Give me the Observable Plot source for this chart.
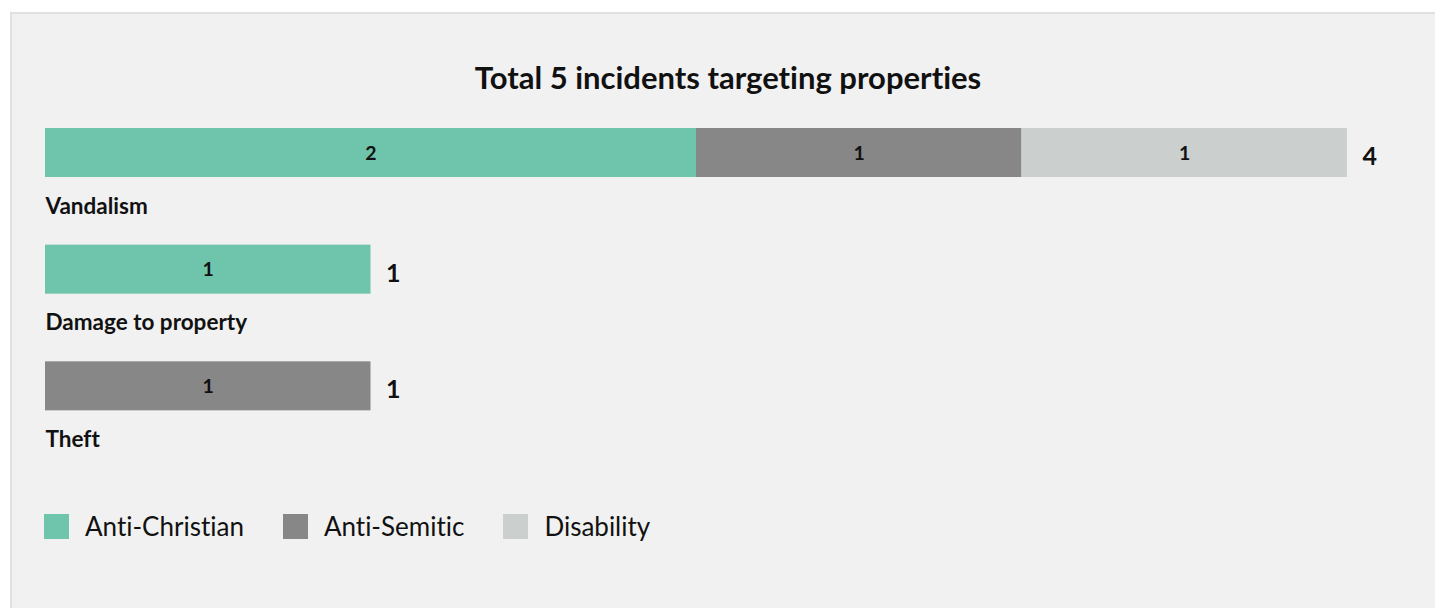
<!DOCTYPE html>
<html>
<head>
<meta charset="utf-8">
<script src="https://cdn.jsdelivr.net/npm/d3@7"></script>
<script src="https://cdn.jsdelivr.net/npm/@observablehq/plot@0.6"></script>
<style>
  html, body { margin: 0; padding: 0; background: #ffffff; width: 1435px; height: 608px; overflow: hidden; font-family: Lato, "Noto Sans", sans-serif; font-variant-ligatures: none; font-feature-settings: "liga" 0, "clig" 0; }
  #panel { position: absolute; left: 10px; top: 12px; width: 1436px; height: 620px; background: #f1f1f1; border: 2px solid #e0e0e0; box-sizing: border-box; }
  #title { position: absolute; left: 10px; width: 1436px; top: 61px; text-align: center; font-size: 31px; line-height: 32px; font-weight: 700; color: #111; }
  #chart { position: absolute; left: 0; top: 110px; }
  #chart svg text { font-variant-ligatures: none; font-feature-settings: "liga" 0, "clig" 0; }
  #legend { position: absolute; left: 44px; top: 510px; display: flex; align-items: center; font-size: 26px; color: #111; }
  .item { display: flex; align-items: center; margin-right: 39px; }
  .sw { width: 25px; height: 25px; margin-right: 16px; }
</style>
</head>
<body>
<div id="panel"></div>
<div id="title"></div>
<div id="chart"></div>
<div id="legend"></div>
<script>
const titleText = "Total 5 incidents targeting properties";
const categories = ["Vandalism", "Damage to property", "Theft"];
const groups = ["Anti-Christian", "Anti-Semitic", "Disability"];
const groupColors = ["#6fc5ac", "#878787", "#cbcfcd"];
const antiChristian = [2, 1, 0];
const antiSemitic = [1, 0, 1];
const disability = [1, 0, 0];

const series = [antiChristian, antiSemitic, disability];
const rows = [];
categories.forEach((c, i) => {
  groups.forEach((g, j) => {
    if (series[j][i] > 0) rows.push({category: c, group: g, value: series[j][i]});
  });
});
const totals = categories.map((c, i) => ({category: c, total: d3.sum(series, s => s[i])}));

document.getElementById("title").textContent = titleText;

const chart = Plot.plot({
  width: 1435,
  height: 370,
  marginLeft: 45,
  marginRight: 88,
  marginTop: 18,
  marginBottom: 2,
  style: {fontFamily: "Lato, 'Noto Sans', sans-serif", background: "transparent", color: "#111"},
  x: {domain: [0, 4], axis: null},
  y: {domain: categories, axis: null, padding: 0, round: false},
  color: {domain: groups, range: groupColors},
  marks: [
    Plot.barX(rows, {x: "value", y: "category", fill: "group", insetTop: 0, insetBottom: 67.67}),
    Plot.text(rows, Plot.stackX({x: "value", y: "category", z: "group", text: d => String(d.value), dy: -33.5, fontSize: 19.5, fontWeight: 700, fill: "#111"})),
    Plot.text(totals, {x: "total", y: "category", text: d => String(d.total), dx: 15, dy: -30, textAnchor: "start", fontSize: 25, fontWeight: 700, fill: "#111"}),
    Plot.text(categories, {x: 0, y: d => d, text: d => d, dy: 19.5, textAnchor: "start", fontSize: 22.5, fontWeight: 700, fill: "#111"})
  ]
});
document.getElementById("chart").appendChild(chart);

const legend = document.getElementById("legend");
groups.forEach((g, i) => {
  const item = document.createElement("div");
  item.className = "item";
  const sw = document.createElement("div");
  sw.className = "sw";
  sw.style.background = groupColors[i];
  const lab = document.createElement("span");
  lab.textContent = g;
  item.appendChild(sw);
  item.appendChild(lab);
  legend.appendChild(item);
});
</script>
</body>
</html>
